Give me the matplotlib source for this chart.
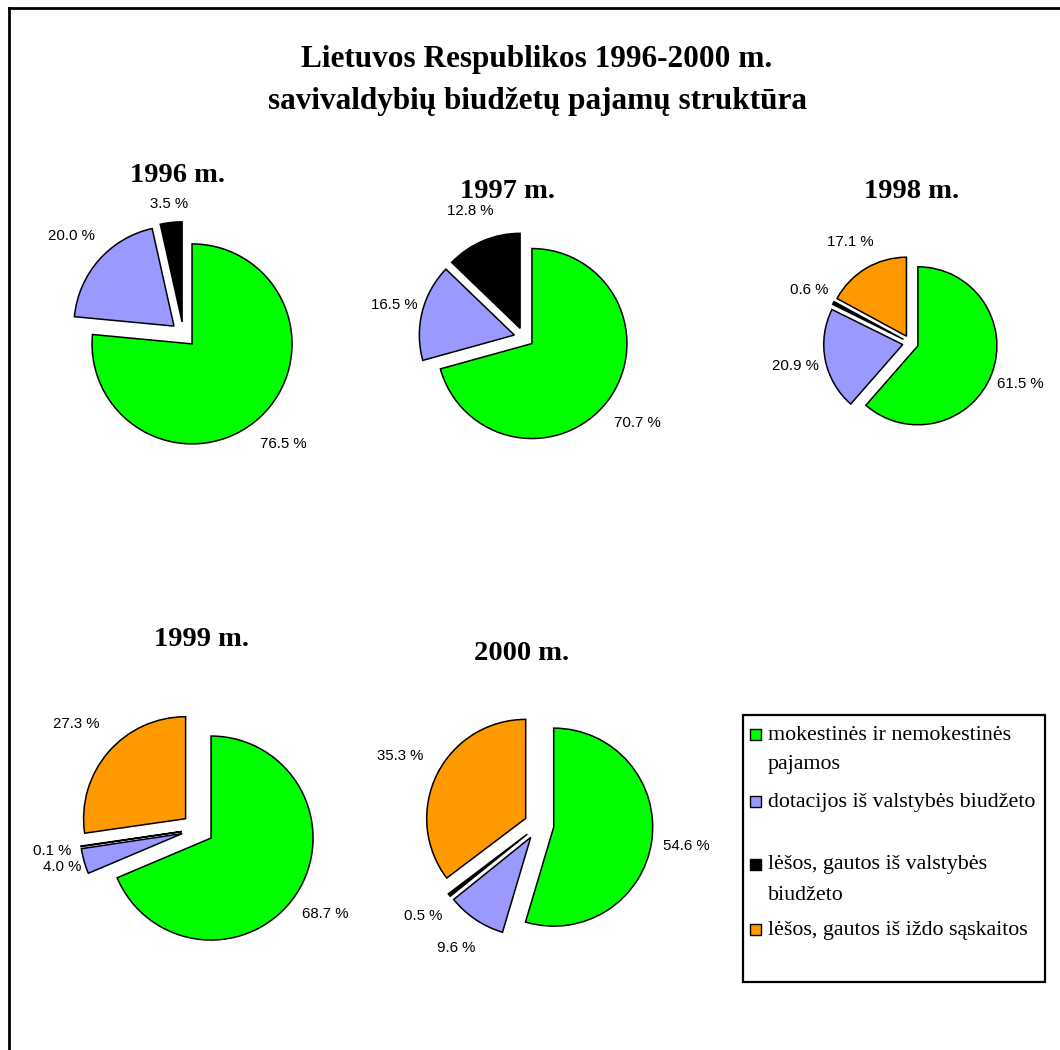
import matplotlib
matplotlib.use("Agg")
import matplotlib.pyplot as plt
import numpy as np
from matplotlib.patches import Rectangle

matplotlib.rcParams['font.family'] = 'Liberation Sans'

W, H = 1060, 1050

# data
title_lines = ["Lietuvos Respublikos 1996-2000 m.",
               "savivaldybių biudžetų pajamų struktūra"]
years = ["1996 m.", "1997 m.", "1998 m.", "1999 m.", "2000 m."]
categories = ["mokestinės ir nemokestinės\npajamos",
              "dotacijos iš valstybės biudžeto",
              "lėšos, gautos iš valstybės\nbiudžeto",
              "lėšos, gautos iš iždo sąskaitos"]
colors = ["#00FF00", "#9999FF", "#000000", "#FF9900"]

# shares in order: green, blue, black, orange (None = not present)
share_1996 = [76.5, 20.0, 3.5, None]
share_1997 = [70.7, 16.5, 12.8, None]
share_1998 = [61.5, 20.9, 0.6, 17.1]
share_1999 = [68.7, 4.0, 0.1, 27.3]
share_2000 = [54.6, 9.6, 0.5, 35.3]
shares = [share_1996, share_1997, share_1998, share_1999, share_2000]

# layout (pixels): pie center, radius, explode, label distance per slice, year title pos
pie_layout = [
    dict(c=(183.5, 334.5), r=100, ex=0.127, ld=[1.35, 1.37, 1.19, 1.3], t=(177, 175)),
    dict(c=(524, 337.5), r=95, ex=0.105, ld=[1.39, 1.30, 1.34, 1.3], t=(508, 191)),
    dict(c=(910.5, 343), r=79, ex=0.10, ld=[1.39, 1.39, 1.35, 1.39], t=(912, 192)),
    dict(c=(197.7, 829.2), r=102, ex=0.157, ld=[1.34, 1.22, 1.28, 1.42], t=(202, 639)),
    dict(c=(539, 825), r=99, ex=0.15, ld=[1.35, 1.35, 1.34, 1.42], t=(522, 654)),
]


def draw_pie(fig, vals_all, lay):
    idx = [i for i, v in enumerate(vals_all) if v is not None]
    vals = [vals_all[i] for i in idx]
    cols = [colors[i] for i in idx]
    cx, cy = lay["c"]
    half = 150
    ax = fig.add_axes([(cx - half) / W, (H - cy - half) / H, 2 * half / W, 2 * half / H])
    wedges, _ = ax.pie(vals, colors=cols, explode=[lay["ex"]] * len(vals),
                       startangle=90, counterclock=False,
                       wedgeprops=dict(edgecolor='k', linewidth=1.1))
    lim = half / lay["r"]
    ax.set_xlim(-lim, lim)
    ax.set_ylim(-lim, lim)
    for w, v, i in zip(wedges, vals, idx):
        th = np.deg2rad((w.theta1 + w.theta2) / 2.0)
        f = lay["ld"][i]
        x = w.center[0] + f * np.cos(th)
        y = w.center[1] + f * np.sin(th)
        ax.text(x, y, "%.1f %%" % v, ha='center', va='center', fontsize=10.8)
    return ax


def main():
    fig = plt.figure(figsize=(W / 100, H / 100), dpi=100)

    # background axes in pixel coords
    bg = fig.add_axes([0, 0, 1, 1])
    bg.set_xlim(0, W)
    bg.set_ylim(H, 0)
    bg.axis('off')

    # border
    bg.plot([9, 9], [H + 5, 8], color='k', linewidth=2.0, solid_capstyle='projecting')
    bg.plot([9, W + 5], [8, 8], color='k', linewidth=2.0, solid_capstyle='projecting')

    # title
    bg.text(537, 60, title_lines[0], ha='center', va='center',
            family='Liberation Serif', fontweight='bold', fontsize=22.5)
    bg.text(537, 102, title_lines[1], ha='center', va='center',
            family='Liberation Serif', fontweight='bold', fontsize=22.5)

    for yr, vals, lay in zip(years, shares, pie_layout):
        bg.text(lay["t"][0], lay["t"][1], yr, ha='center', va='center',
                family='Liberation Serif', fontweight='bold', fontsize=20.5)
        draw_pie(fig, vals, lay)

    # legend (drawn by hand to match the top-aligned markers)
    bg.add_patch(Rectangle((743, 715), 302, 267, fill=False, edgecolor='k', linewidth=1.6))
    entry_y = [735, 802, 865, 930]
    for lab, col, y0 in zip(categories, colors, entry_y):
        bg.add_patch(Rectangle((749.5, y0 - 6), 11, 11, facecolor=col, edgecolor='k', linewidth=1.0))
        for k, line in enumerate(lab.split("\n")):
            bg.text(768, y0 + 30 * k, line, ha='left', va='center',
                    family='Liberation Serif', fontsize=15.8)

    fig.savefig("out.png", dpi=100)
    plt.close(fig)


if __name__ == '__main__':
    main()
